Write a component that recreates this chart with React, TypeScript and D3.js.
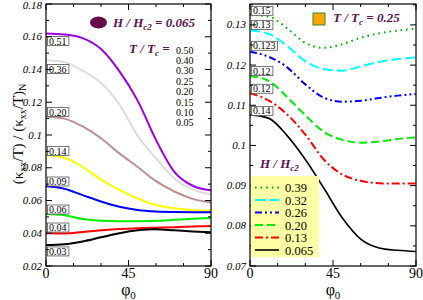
import React from "react";
import * as d3 from "d3";

// ---------- DATA ----------
const phi = [0, 10, 20, 30, 40, 50, 60, 70, 80, 90];

// Left panel: H/Hc2 = 0.065, different T/Tc
const tLabels = ["0.50", "0.40", "0.30", "0.25", "0.20", "0.15", "0.10", "0.05"];
const leftBoxLabels = ["0.51", "0.36", "0.20", "0.14", "0.09", "0.06", "0.04", "0.03"];
const leftBoxAt = [0.1574, 0.1403, 0.114, 0.0902, 0.0716, 0.0545, 0.0435, 0.0289];
const kT050 = [0.162, 0.1614, 0.1592, 0.1525, 0.139, 0.121, 0.097, 0.0775, 0.069, 0.0662];
const kT040 = [0.1458, 0.1445, 0.1392, 0.1318, 0.1188, 0.0995, 0.0858, 0.0735, 0.0668, 0.0637];
const kT030 = [0.1113, 0.11, 0.1052, 0.098, 0.0888, 0.0805, 0.0718, 0.0655, 0.061, 0.0588];
const kT025 = [0.0876, 0.0861, 0.0805, 0.0728, 0.0665, 0.0612, 0.0572, 0.0552, 0.0542, 0.0537];
const kT020 = [0.0687, 0.0672, 0.0633, 0.0594, 0.0562, 0.0542, 0.0533, 0.053, 0.0529, 0.0529];
const kT015 = [0.0517, 0.051, 0.0487, 0.0476, 0.0473, 0.0473, 0.0476, 0.0482, 0.0488, 0.0493];
const kT010 = [0.04, 0.0399, 0.0408, 0.0418, 0.0426, 0.0431, 0.0434, 0.0437, 0.0441, 0.0445];
const kT005 = [0.0328, 0.0333, 0.035, 0.0375, 0.04, 0.0418, 0.0424, 0.0418, 0.0411, 0.0406];
const leftSeries = [kT050, kT040, kT030, kT025, kT020, kT015, kT010, kT005];
const leftColors = ["#9a00e8", "#dcdcdc", "#bc8f8f", "#ffff00", "#0000ff", "#00ee00", "#ff0000", "#000000"];

// Right panel: T/Tc = 0.25, different H/Hc2
const hLabels = ["0.39", "0.32", "0.26", "0.20", "0.13", "0.065"];
const rightBoxLabels = ["0.15", "0.13", "0.123", "0.12", "0.12", "0.14"];
const rightBoxAt = [0.1335, 0.13, 0.1248, 0.1185, 0.1141, 0.1086];
const kH039 = [0.1325, 0.1321, 0.1292, 0.1255, 0.1243, 0.1252, 0.1268, 0.1279, 0.1286, 0.129];
const kH032 = [0.1286, 0.1278, 0.1248, 0.121, 0.119, 0.1186, 0.1197, 0.1208, 0.1215, 0.1219];
const kH026 = [0.1233, 0.1221, 0.1195, 0.1152, 0.1119, 0.1109, 0.1111, 0.1118, 0.1124, 0.1128];
const kH020 = [0.1173, 0.1161, 0.1121, 0.1075, 0.1034, 0.1014, 0.1007, 0.101, 0.1016, 0.102];
const kH013 = [0.113, 0.1112, 0.1078, 0.1027, 0.0965, 0.0928, 0.0912, 0.0906, 0.0905, 0.0905];
const kH0065 = [0.1076, 0.1068, 0.1025, 0.0965, 0.0894, 0.082, 0.0767, 0.0745, 0.0739, 0.0736];
const rightSeries = [kH039, kH032, kH026, kH020, kH013, kH0065];
const rightColors = ["#00b000", "#00ffff", "#0000ff", "#00ee00", "#ff0000", "#000000"];
const rightDash = ["1.6,4", "10,4", "7,3,2,3,2,3", "8,4", "8,3,2,3", ""];

const xTicks = [0, 45, 90];
const xMinor = [15, 30, 60, 75];
const leftYTicks = [0.02, 0.04, 0.06, 0.08, 0.1, 0.12, 0.14, 0.16, 0.18];
const rightYTicks = [0.07, 0.08, 0.09, 0.1, 0.11, 0.12, 0.13];

// ---------- LAYOUT ----------
const TOP = 4;
const BOTTOM = 266;
const SERIF = "'Liberation Serif', 'Times New Roman', serif";
const TITLE = "#5e1050";

const fmt = (v: number) => {
  const s = v.toFixed(2);
  return s.endsWith("0") ? s.slice(0, -1) : s;
};

function Frame({ x, y, yTicks, yMinor }: any) {
  const [x0, x1] = x.range();
  const els: any[] = [];
  xTicks.forEach((t) => {
    els.push(<line key={"xb" + t} x1={x(t)} x2={x(t)} y1={BOTTOM} y2={BOTTOM - 6} stroke="#000" />);
    els.push(<line key={"xt" + t} x1={x(t)} x2={x(t)} y1={TOP} y2={TOP + 6} stroke="#000" />);
  });
  xMinor.forEach((t) => {
    els.push(<line key={"xbm" + t} x1={x(t)} x2={x(t)} y1={BOTTOM} y2={BOTTOM - 3} stroke="#000" />);
    els.push(<line key={"xtm" + t} x1={x(t)} x2={x(t)} y1={TOP} y2={TOP + 3} stroke="#000" />);
  });
  yTicks.forEach((t: number) => {
    els.push(<line key={"yl" + t} x1={x0} x2={x0 + 6} y1={y(t)} y2={y(t)} stroke="#000" />);
    els.push(<line key={"yr" + t} x1={x1} x2={x1 - 6} y1={y(t)} y2={y(t)} stroke="#000" />);
  });
  yMinor.forEach((t: number) => {
    els.push(<line key={"ylm" + t} x1={x0} x2={x0 + 3} y1={y(t)} y2={y(t)} stroke="#000" />);
    els.push(<line key={"yrm" + t} x1={x1} x2={x1 - 3} y1={y(t)} y2={y(t)} stroke="#000" />);
  });
  return (
    <g>
      {els}
      <rect x={x0} y={TOP} width={x1 - x0} height={BOTTOM - TOP} fill="none" stroke="#000" strokeWidth={1.2} />
      {yTicks.map((t: number) => (
        <text key={"lab" + t} x={x0 - 4} y={Math.max(y(t) + 3.5, 9)} textAnchor="end" fontStyle="italic" fontSize={11} fontFamily={SERIF}>
          {fmt(t)}
        </text>
      ))}
      {xTicks.map((t) => (
        <text key={"xl" + t} x={x(t)} y={278} textAnchor="middle" fontSize={14} fontFamily={SERIF}>
          {t}
        </text>
      ))}
      <text x={(x0 + x1) / 2} y={295} textAnchor="middle" fontSize={16} fontFamily={SERIF}>
        φ<tspan fontSize={11} dy={4}>0</tspan>
      </text>
    </g>
  );
}

function BoxLabel({ x, y, text }: any) {
  const w = text.length * 4.6 + 3;
  return (
    <g>
      <rect x={x} y={y - 4.5} width={w} height={9} fill="#fff" stroke="#555" strokeWidth={0.8} />
      <text x={x + 1.5} y={y + 3.5} fontSize={10} fontFamily={SERIF}>
        {text}
      </text>
    </g>
  );
}

export default function App() {
  const xL = d3.scaleLinear().domain([0, 90]).range([46, 211]);
  const yL = d3.scaleLinear().domain([0.02, 0.18]).range([BOTTOM, TOP]);
  const xR = d3.scaleLinear().domain([0, 90]).range([250, 416]);
  const yR = d3.scaleLinear().domain([0.07, 0.1352]).range([BOTTOM, TOP]);

  const lineL = d3.line<number>().x((_, i) => xL(phi[i])).y((d) => yL(d)).curve(d3.curveMonotoneX);
  const lineR = d3.line<number>().x((_, i) => xR(phi[i])).y((d) => yR(d)).curve(d3.curveMonotoneX);

  const leftMinor = d3.range(0.03, 0.18, 0.02);
  const rightMinor = d3.range(0.075, 0.135, 0.01);

  return (
    <svg width={423} height={300} style={{ position: "absolute", left: 0, top: 0, background: "#fff" }}>
      <defs>
        <clipPath id="clipL">
          <rect x={46} y={TOP} width={165} height={BOTTOM - TOP} />
        </clipPath>
        <clipPath id="clipR">
          <rect x={250} y={TOP} width={166} height={BOTTOM - TOP} />
        </clipPath>
      </defs>

      {/* Left panel curves */}
      <g clipPath="url(#clipL)">
        {leftSeries.map((s, i) => (
          <path key={i} d={lineL(s) as string} fill="none" stroke={leftColors[i]} strokeWidth={2} />
        ))}
      </g>
      {leftBoxLabels.map((t, i) => (
        <BoxLabel key={i} x={47.5} y={yL(leftBoxAt[i])} text={t} />
      ))}
      <Frame x={xL} y={yL} yTicks={leftYTicks} yMinor={leftMinor} />

      <ellipse cx={98.5} cy={22.5} rx={8.5} ry={6} fill="#660a4a" />
      <text x={113} y={27} fontSize={13} fontWeight="bold" fontStyle="italic" fontFamily={SERIF} fill={TITLE}>
        H / H<tspan fontSize={9} dy={3}>c2</tspan>
        <tspan dy={-3}> = 0.065</tspan>
      </text>
      <text x={129} y={53} fontSize={13} fontWeight="bold" fontStyle="italic" fontFamily={SERIF} fill={TITLE}>
        T / T<tspan fontSize={9} dy={3}>c</tspan>
        <tspan dy={-3}> =</tspan>
      </text>
      {tLabels.map((t, i) => (
        <text key={t} x={176} y={53.5 + i * 10.4} fontSize={10} fontFamily={SERIF}>
          {t}
        </text>
      ))}

      {/* Y axis title */}
      <text transform="translate(23,134) rotate(-90)" textAnchor="middle" fontSize={15} fontFamily={SERIF}>
        (κ<tspan fontSize={10} dy={3}>xx</tspan>
        <tspan dy={-3}>/T) / (κ</tspan>
        <tspan fontSize={10} dy={3}>xx</tspan>
        <tspan dy={-3}>/T)</tspan>
        <tspan fontSize={10} dy={3}>N</tspan>
      </text>

      {/* Right panel curves */}
      <g clipPath="url(#clipR)">
        {rightSeries.map((s, i) => (
          <path
            key={i}
            d={lineR(s) as string}
            fill="none"
            stroke={rightColors[i]}
            strokeWidth={i === 5 ? 1.6 : 2}
            strokeDasharray={rightDash[i] || undefined}
          />
        ))}
      </g>
      {rightBoxLabels.map((t, i) => (
        <BoxLabel key={i} x={251.5} y={yR(rightBoxAt[i])} text={t} />
      ))}
      <Frame x={xR} y={yR} yTicks={rightYTicks} yMinor={rightMinor} />

      <rect x={313} y={13} width={12} height={12} fill="#ffa500" stroke="#2e8b2e" strokeWidth={1} />
      <text x={333} y={22} fontSize={13} fontWeight="bold" fontStyle="italic" fontFamily={SERIF} fill={TITLE}>
        T / T<tspan fontSize={9} dy={3}>c</tspan>
        <tspan dy={-3}> = 0.25</tspan>
      </text>

      {/* Legend */}
      <text x={260} y={168} fontSize={13} fontWeight="bold" fontStyle="italic" fontFamily={SERIF} fill={TITLE}>
        H / H<tspan fontSize={9} dy={3}>c2</tspan>
      </text>
      <rect x={251} y={176} width={68} height={81} fill="#ffffa6" />
      {hLabels.map((t, i) => {
        const cy = 187.5 + i * 12.5;
        return (
          <g key={t}>
            <line
              x1={255}
              x2={279}
              y1={cy}
              y2={cy}
              stroke={rightColors[i]}
              strokeWidth={i === 5 ? 1.6 : 2}
              strokeDasharray={rightDash[i] || undefined}
            />
            <text x={285} y={cy + 4.5} fontSize={12.5} fontFamily={SERIF}>
              {t}
            </text>
          </g>
        );
      })}
    </svg>
  );
}
